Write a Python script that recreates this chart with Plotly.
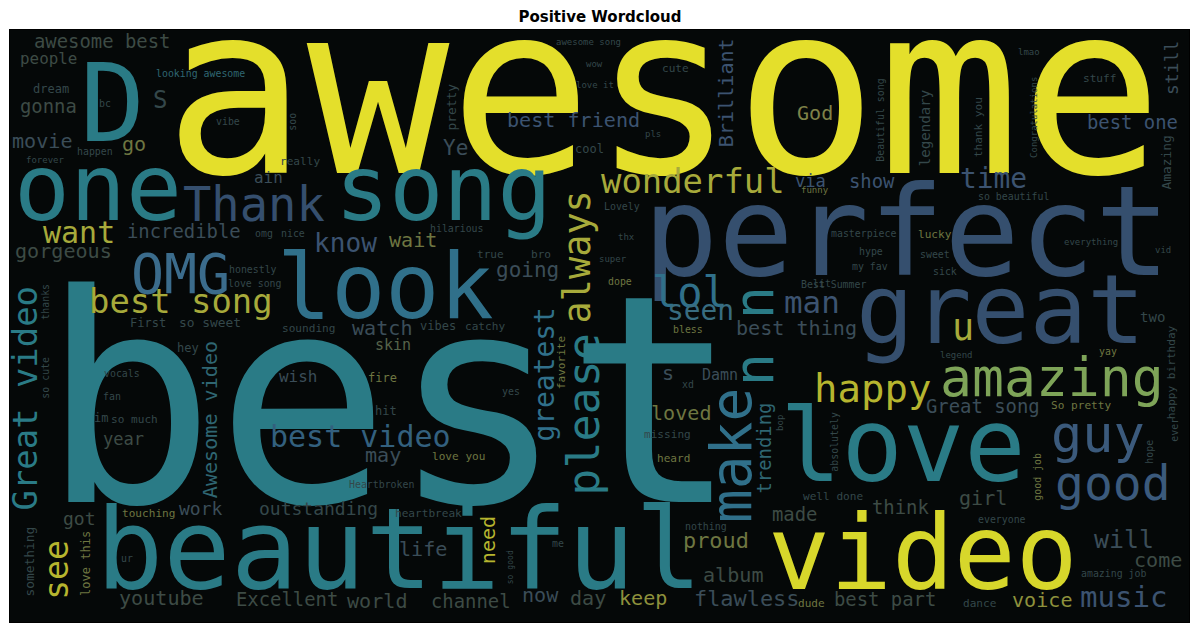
import plotly.graph_objects as go

# word list and relative weights (best = ~97); font size is 3 px per weight unit
words = [
    "awesome", "best", "perfect", "beautiful", "love", "video", "D", "great",
    "one", "song", "look", "make", "n", "n", "OMG", "amazing", "guy", "good",
    "Thank", "please", "lol", "happy", "always", "u", "best song", "wonderful",
    "Great video", "see", "man", "want", "best video", "music", "time", "seen",
    "greatest", "know", "will", "flawless", "proud", "going", "watch",
    "Awesome video", "Brilliant", "best friend", "God", "gorgeous", "movie",
    "work", "best thing", "loved", "Ye", "youtube", "Excellent", "world",
    "channel", "day", "keep", "album", "voice", "best part", "come", "girl",
    "think", "made", "life", "now", "need", "trending", "incredible",
    "awesome best", "gonna", "Great song", "best one", "show", "year", "may",
    "got", "outstanding", "still", "wait", "via", "ain", "wish", "people",
    "skin", "Damn", "s", "S", "go",
    "legendary", "happy birthday", "Congratulations", "Beautiful song",
    "thank you", "Amazing", "something", "love this", "pretty", "favorite",
    "absolutely", "good job", "hope", "ever", "so good", "thanks", "so cute",
    "bop", "soo",
    "looking awesome", "dream", "forever", "really", "happen", "vibe",
    "awesome song", "wow", "cute", "love it", "pls", "cool", "stuff", "lmao",
    "so beautiful", "funny", "Lovely", "omg", "nice", "honestly", "love song",
    "First", "so sweet", "sounding", "hey", "vocals", "fan", "im", "so much",
    "fire", "hit", "Heartbroken", "touching", "ur", "love you", "heartbreak",
    "me", "nothing", "missing", "heard", "well done", "everyone",
    "amazing job", "dance", "dude", "masterpiece", "lucky", "hype", "sweet",
    "sick", "my fav", "Best Summer", "everything", "vid", "two", "legend",
    "yay", "hilarious", "true", "bro", "thx", "super", "dope", "vibes",
    "catchy", "yes", "bless", "xd", "lit", "So pretty", "bc",
]

weights = [
    79, 96.7, 41.7, 37.3, 34, 34.3, 36, 32,
    31, 30, 30, 18.7, 18.3, 18.3, 18.3, 17.7, 17.3, 16,
    15.7, 15, 14, 13, 12.3, 12.3, 11.3, 11.3,
    11.3, 11, 10.3, 10, 10, 9.7, 9.3, 9.3,
    9.3, 8.7, 8.3, 7.3, 7.3, 7, 6.7,
    6.7, 6.7, 6.7, 6.7, 6.7, 6.7,
    6, 6.7, 6.7, 7, 6.7, 6.3, 6.7,
    6.3, 6.7, 6.7, 6.7, 6.7, 6.3, 6.7, 6.7,
    6.3, 6.3, 6.7, 6.7, 6.7, 6.3, 6.3,
    6.3, 6.3, 6.3, 6.3, 6.3, 5.7, 6.7,
    6, 6, 6, 6.7, 5.7, 5.3, 5.3, 5.3,
    5, 5, 6.7, 8, 6.7,
    4.7, 3.7, 3, 3.3,
    3.7, 4.3, 4.3, 4, 4.3, 3.7,
    3.3, 3.3, 3.3, 3.3, 2.7, 3.3, 3.3,
    3, 3.3,
    3.3, 4, 3, 3.7, 3.3, 3.3,
    3, 3, 3.7, 3, 3, 4, 3.7, 3,
    3.3, 3, 3.3, 3.3, 3.3, 3.3, 3.3,
    4, 4.3, 3.7, 4, 3.3, 3.3, 4, 3.7,
    4, 4, 3.3, 3.7, 3.3, 3.7, 3.7,
    3.3, 3.3, 3.7, 3.7, 3.7, 3.3,
    3.3, 3.7, 3.7, 3.3, 3.7, 3.3, 3.3,
    3.3, 3.3, 3.3, 3, 3, 4.7, 3,
    3.3, 3.3, 3.7, 3.7, 3, 3, 3.3, 4,
    3.7, 3.3, 3.3, 3.3, 3.3, 3.7, 3.3,
]

colors = {
    "Y": "#e4df2b", "V": "#d7d72b", "OL": "#a7aa3b", "HP": "#b6b52f",
    "AM": "#7ea458", "OD": "#6e7641", "O2": "#8e913c", "GO": "#7f8248",
    "T": "#2a7b86", "TB": "#30708a", "OM": "#3b6c8c", "ST": "#386c80",
    "SL": "#354f6e", "SB": "#3b5a7c", "BV": "#33607e", "MB": "#3c5370",
    "DB": "#3b4d58", "DG": "#3d4b45", "DT": "#2f6672", "DD": "#34474a",
    "OG": "#56634a",
}

# placement (x, y, vertical, colour key) in picture pixels:
# horizontal -> x = centre, y = baseline ; vertical -> x = baseline, y = centre
place = [
    (663, 172, 0, "Y"), (390, 500, 0, "T"), (906, 275, 0, "SL"), (399, 587, 0, "T"),
    (903, 480, 0, "T"), (923, 588, 0, "V"), (112, 140, 0, "T"), (1000, 343, 0, "SL"),
    (98, 220, 0, "T"), (443, 219, 0, "T"), (385, 317, 0, "TB"), (750, 455, 1, "TB"),
    (773, 370, 1, "T"), (773, 303, 1, "T"), (180, 293, 0, "OM"), (1052, 396, 0, "AM"),
    (1098, 452, 0, "SB"), (1113, 499, 0, "SB"),
    (254, 221, 0, "SL"), (598, 414, 1, "T"), (690, 307, 0, "TB"), (872, 402, 0, "HP"),
    (590, 257, 1, "OL"), (963, 340, 0, "OL"), (181, 313, 0, "OL"), (693, 193, 0, "OL"),
    (37, 398, 1, "T"), (67, 570, 1, "HP"), (812, 313, 0, "MB"), (79, 243, 0, "OL"),
    (360, 447, 0, "BV"), (1124, 607, 0, "MB"), (993, 188, 0, "MB"), (700, 320, 0, "ST"),
    (553, 375, 1, "TB"), (345, 252, 0, "MB"), (1124, 548, 0, "DB"), (746, 606, 0, "DB"),
    (716, 548, 0, "OD"), (527, 277, 0, "DB"), (382, 335, 0, "DB"),
    (217, 420, 1, "DT"), (733, 93, 1, "MB"), (573, 127, 0, "MB"), (815, 120, 0, "GO"),
    (63, 258, 0, "DG"), (42, 148, 0, "DB"),
    (201, 515, 0, "DB"), (796, 335, 0, "DB"), (681, 420, 0, "OD"), (455, 155, 0, "DB"),
    (161, 605, 0, "DG"), (287, 605, 0, "DG"), (377, 608, 0, "DG"),
    (471, 607, 0, "DG"), (588, 605, 0, "DG"), (643, 605, 0, "O2"), (733, 582, 0, "DG"),
    (1042, 607, 0, "O2"), (885, 605, 0, "DG"), (1158, 567, 0, "DG"), (983, 505, 0, "DG"),
    (900, 513, 0, "DG"), (795, 520, 0, "DG"), (423, 556, 0, "DB"), (540, 602, 0, "DB"),
    (495, 540, 1, "HP"), (770, 448, 1, "DT"), (184, 237, 0, "DB"),
    (102, 47, 0, "DG"), (48, 112, 0, "DG"), (983, 412, 0, "DB"), (1132, 128, 0, "MB"),
    (872, 187, 0, "MB"), (123, 445, 0, "DG"), (383, 462, 0, "DB"),
    (79, 525, 0, "DG"), (318, 515, 0, "DD"), (1177, 68, 1, "DB"), (413, 247, 0, "OD"),
    (810, 187, 0, "MB"), (268, 183, 0, "DB"), (298, 382, 0, "DB"), (48, 64, 0, "DG"),
    (393, 350, 0, "OG"), (720, 380, 0, "DB"), (668, 380, 0, "DB"), (160, 108, 0, "DD"),
    (134, 151, 0, "OD"),
    (930, 128, 1, "DD"), (1175, 372, 1, "DD"), (1037, 117, 1, "DD"), (883, 120, 1, "DD"),
    (982, 127, 1, "DD"), (1170, 163, 1, "DD"), (33, 562, 1, "DD"), (90, 563, 1, "OD"),
    (455, 107, 1, "DD"), (565, 362, 1, "OD"),
    (837, 442, 1, "DD"), (1040, 477, 1, "OD"), (1152, 452, 1, "DD"), (1177, 430, 1, "DD"),
    (513, 567, 1, "DD"), (48, 302, 1, "DD"), (48, 378, 1, "DD"),
    (783, 423, 1, "DD"), (295, 122, 1, "DD"),
    (200, 77, 0, "DT"), (51, 93, 0, "DD"), (45, 163, 0, "DD"), (300, 165, 0, "DD"),
    (95, 155, 0, "DD"), (228, 125, 0, "DD"),
    (588, 45, 0, "DD"), (594, 67, 0, "DD"), (675, 72, 0, "DD"), (595, 88, 0, "DD"),
    (653, 137, 0, "DD"), (589, 153, 0, "DD"), (1099, 82, 0, "DD"), (1029, 55, 0, "DD"),
    (1013, 200, 0, "DD"), (815, 193, 0, "OD"), (622, 210, 0, "DD"), (264, 237, 0, "DD"),
    (293, 237, 0, "DD"), (253, 273, 0, "DD"), (255, 287, 0, "DD"),
    (148, 327, 0, "DD"), (210, 327, 0, "DD"), (308, 332, 0, "DD"), (188, 352, 0, "DD"),
    (122, 377, 0, "DD"), (112, 400, 0, "DD"), (101, 422, 0, "DD"), (134, 423, 0, "DD"),
    (382, 382, 0, "OD"), (386, 415, 0, "DD"), (381, 488, 0, "DD"), (148, 517, 0, "OD"),
    (127, 562, 0, "DD"), (458, 460, 0, "OD"), (428, 517, 0, "DD"),
    (558, 547, 0, "DD"), (706, 530, 0, "DD"), (667, 438, 0, "DD"), (673, 462, 0, "OD"),
    (833, 500, 0, "DD"), (1002, 523, 0, "DD"),
    (1113, 577, 0, "DD"), (980, 607, 0, "DD"), (811, 607, 0, "OD"), (863, 237, 0, "DD"),
    (935, 238, 0, "OD"), (871, 255, 0, "DD"), (935, 258, 0, "DD"),
    (945, 275, 0, "DD"), (870, 270, 0, "DD"), (833, 288, 0, "DD"), (1091, 245, 0, "DD"),
    (1163, 253, 0, "DD"), (1152, 322, 0, "DD"), (956, 358, 0, "DD"),
    (1108, 355, 0, "OD"), (457, 232, 0, "DD"), (490, 258, 0, "DD"), (541, 258, 0, "DD"),
    (626, 240, 0, "DD"), (613, 262, 0, "DD"), (620, 285, 0, "OD"), (438, 330, 0, "DD"),
    (485, 330, 0, "DD"), (511, 395, 0, "DD"), (688, 333, 0, "OD"), (688, 388, 0, "DD"),
    (822, 287, 0, "DD"), (1081, 409, 0, "OD"), (105, 107, 0, "DD"),
]

assert len(words) == len(weights) == len(place)

MONO = "DejaVu Sans Mono"
BASE = 0.34  # baseline offset from annotation centre, in em
annotations = []
for word, wt, (x, y, vert, ckey) in zip(words, weights, place):
    fs = 3 * wt
    if vert:
        ax, ay, ang = x - BASE * fs, y, -90
    else:
        ax, ay, ang = x, y - BASE * fs, 0
    annotations.append(dict(
        x=ax, y=ay, xref="x", yref="y", text=word, showarrow=False,
        textangle=ang, xanchor="center", yanchor="middle",
        font=dict(family=MONO, size=fs, color=colors[ckey]),
    ))

fig = go.Figure()
fig.add_trace(go.Scatter(x=[10, 1189], y=[30, 622], mode="markers",
                         marker=dict(opacity=0), hoverinfo="skip", showlegend=False))

# the page body adds an 8px offset, so the margins are shifted to compensate
axis_style = dict(showgrid=False, zeroline=False, showticklabels=False, ticks="",
                  showline=True, mirror=True, linecolor="black", linewidth=1)
fig.update_layout(
    width=1200, height=632,
    margin=dict(l=2, r=19, t=22, b=18),
    paper_bgcolor="white", plot_bgcolor="#050808",
    title=dict(text="Positive Wordcloud", x=592 / 1200, xanchor="center",
               y=1 - 9 / 632, yanchor="middle", yref="container",
               font=dict(family="DejaVu Sans", size=15, color="black", weight="bold")),
    xaxis=dict(range=[10, 1189], **axis_style),
    yaxis=dict(range=[622, 30], **axis_style),
    annotations=annotations,
    showlegend=False,
)

fig.write_html("out.html")
